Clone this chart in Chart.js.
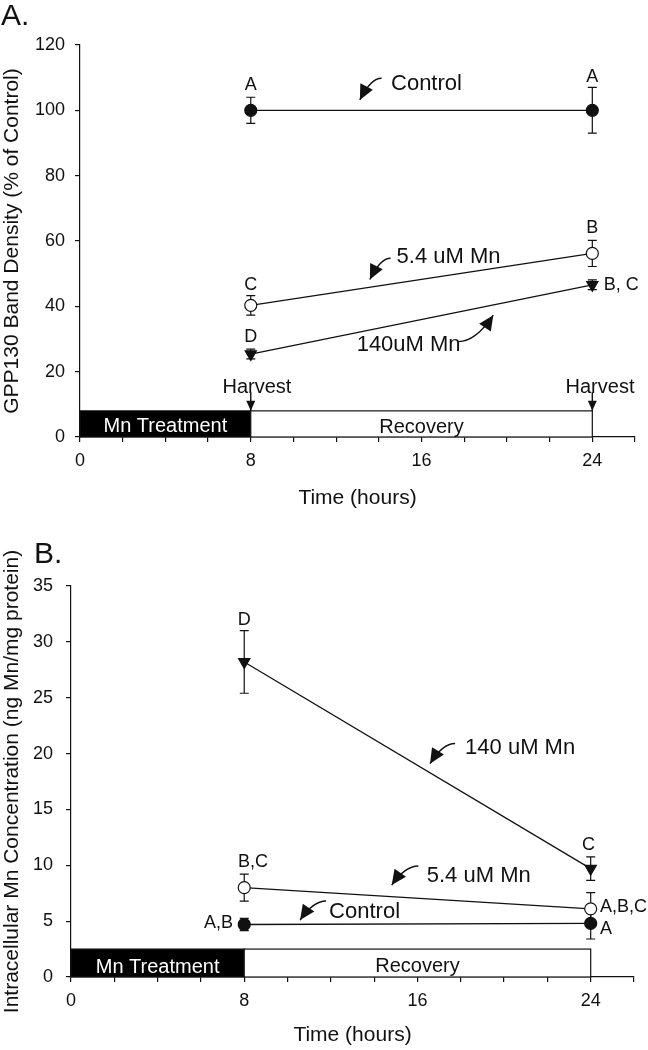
<!DOCTYPE html>
<html>
<head>
<meta charset="utf-8">
<script src="https://cdn.jsdelivr.net/npm/chart.js@4.4.0/dist/chart.umd.min.js"></script>
<style>
  html, body { margin: 0; padding: 0; background: #fff; }
  body { width: 648px; height: 1050px; position: relative; overflow: hidden; font-family: "Liberation Sans", Arial, sans-serif; }
  .panel { position: absolute; left: 0; width: 648px; }
  #wrapA { top: 0; height: 520px; }
  #wrapB { top: 520px; height: 530px; }
  .tag { position: absolute; font-size: 30px; line-height: 1; color: #111; }
</style>
</head>
<body>
<div class="panel" id="wrapA"><canvas id="chartA" width="648" height="520"></canvas></div>
<div class="panel" id="wrapB"><canvas id="chartB" width="648" height="530"></canvas></div>
<div class="tag" style="left:1px; top:0px;">A.</div>
<div class="tag" style="left:34px; top:538px;">B.</div>

<script>
// time points (hours) and axis ticks
const hours = [8, 24];
const xLabelTicks = [0, 8, 16, 24];

// A. GPP130 band density, % of control (mean and error)
const gppControl = [100, 100];
const gppControlErr = [4, 7];
const gppLow = [40.3, 56.2];
const gppLowErr = [3, 4];
const gppHigh = [25.4, 46.6];
const gppHighErr = [1.5, 1.5];
const gppTicks = [0, 20, 40, 60, 80, 100, 120];

// B. intracellular Mn, ng Mn / mg protein
const mnControl = [4.7, 4.8];
const mnControlErr = [0.55, 1.4];
const mnLow = [8.0, 6.1];
const mnLowErr = [1.2, 1.45];
const mnHigh = [28.2, 9.7];
const mnHighErr = [2.8, 1.05];
const mnTicks = [0, 5, 10, 15, 20, 25, 30, 35];

// treatment phases
const phaseNames = ['Mn Treatment', 'Recovery'];
const phaseStart = [0, 8];
const phaseEnd = [8, 24];
const harvestTimes = [8, 24];

const FONT = "'Liberation Sans', Arial, sans-serif";
const INK = '#111';

function pts(xs, ys) {
  return xs.map((x, i) => ({ x: x, y: ys[i] }));
}

function seriesSet(label, ys, errs, kind) {
  const ds = {
    label: label,
    data: pts(hours, ys),
    errors: errs,
    borderColor: INK,
    borderWidth: 1.3,
    pointRadius: 6,
    pointBorderColor: INK,
    pointBorderWidth: 1.2,
    pointBackgroundColor: INK,
    pointStyle: 'circle',
    tension: 0
  };
  if (kind === 'open') ds.pointBackgroundColor = '#fff';
  if (kind === 'tri') { ds.pointStyle = 'triangle'; ds.pointRotation = 180; ds.pointRadius = 6.5; }
  return ds;
}

// error bars under the points
const errorBars = {
  id: 'errorBars',
  beforeDatasetsDraw(chart) {
    const ctx = chart.ctx, y = chart.scales.y;
    ctx.save();
    ctx.strokeStyle = INK;
    ctx.lineWidth = 1.2;
    chart.data.datasets.forEach((ds, di) => {
      const meta = chart.getDatasetMeta(di);
      meta.data.forEach((p, i) => {
        const v = ds.data[i].y, e = ds.errors[i];
        const top = y.getPixelForValue(v + e), bot = y.getPixelForValue(v - e);
        ctx.beginPath();
        ctx.moveTo(p.x, top); ctx.lineTo(p.x, bot);
        ctx.moveTo(p.x - 4.5, top); ctx.lineTo(p.x + 4.5, top);
        ctx.moveTo(p.x - 4.5, bot); ctx.lineTo(p.x + 4.5, bot);
        ctx.stroke();
      });
    });
    ctx.restore();
  }
};

// treatment / recovery bar along the time axis
const phaseBar = {
  id: 'phaseBar',
  beforeDatasetsDraw(chart, args, opts) {
    const ctx = chart.ctx, x = chart.scales.x, y = chart.scales.y;
    const yTop = y.getPixelForValue(opts.height), yBot = y.getPixelForValue(0);
    ctx.save();
    ctx.lineWidth = 1.2;
    ctx.strokeStyle = INK;
    phaseNames.forEach((name, i) => {
      const x0 = x.getPixelForValue(phaseStart[i]), x1 = x.getPixelForValue(phaseEnd[i]);
      ctx.fillStyle = i === 0 ? '#000' : '#fff';
      ctx.fillRect(x0, yTop, x1 - x0, yBot - yTop);
      ctx.strokeRect(x0, yTop, x1 - x0, yBot - yTop);
    });
    ctx.restore();
  }
};

function arrowHead(ctx, tx, ty, dx, dy, len, wid) {
  const d = Math.hypot(dx, dy) || 1;
  const ux = dx / d, uy = dy / d;
  const bx = tx - ux * len, by = ty - uy * len;
  ctx.beginPath();
  ctx.moveTo(tx, ty);
  ctx.lineTo(bx - uy * wid / 2, by + ux * wid / 2);
  ctx.lineTo(bx + uy * wid / 2, by - ux * wid / 2);
  ctx.closePath();
  ctx.fill();
}

// text labels and arrows, placed in data units
const notes = {
  id: 'notes',
  afterDraw(chart, args, opts) {
    const ctx = chart.ctx, x = chart.scales.x, y = chart.scales.y;
    ctx.save();
    ctx.strokeStyle = INK;
    ctx.fillStyle = INK;
    ctx.lineWidth = 1.4;
    (opts.arrows || []).forEach(a => {
      const x0 = x.getPixelForValue(a.from[0]), y0 = y.getPixelForValue(a.from[1]);
      const x1 = x.getPixelForValue(a.to[0]), y1 = y.getPixelForValue(a.to[1]);
      if (a.straight) {
        ctx.beginPath(); ctx.moveTo(x0, y0); ctx.lineTo(x1, y1); ctx.stroke();
        arrowHead(ctx, x1, y1, x1 - x0, y1 - y0, 10, 9);
      } else {
        const cx = (x0 + x1) / 2, cy = y0;
        ctx.beginPath(); ctx.moveTo(x0, y0); ctx.quadraticCurveTo(cx, cy, x1, y1); ctx.stroke();
        arrowHead(ctx, x1, y1, x1 - cx, y1 - cy, 15, 14);
      }
    });
    (opts.labels || []).forEach(t => {
      ctx.font = (t.size || 18) + 'px ' + FONT;
      ctx.fillStyle = t.color || INK;
      ctx.textAlign = t.align || 'center';
      ctx.textBaseline = 'middle';
      ctx.fillText(t.text, x.getPixelForValue(t.x), y.getPixelForValue(t.y));
    });
    ctx.restore();
  }
};

function makePanel(id, datasets, yTitle, yTicks, yMax, dims, extras) {
  return new Chart(document.getElementById(id), {
    type: 'line',
    data: { datasets: datasets },
    plugins: [phaseBar, errorBars, notes],
    options: {
      responsive: false,
      animation: false,
      devicePixelRatio: 1,
      layout: { padding: dims.padding },
      scales: {
        x: {
          type: 'linear',
          min: 0, max: 26,
          afterFit: s => { s.height = dims.xHeight; },
          border: { display: true, color: INK, width: 1.2 },
          grid: { drawOnChartArea: false, drawTicks: true, tickLength: 5, color: INK, lineWidth: 1.2 },
          ticks: {
            stepSize: 2, autoSkip: false, maxRotation: 0, padding: 8,
            color: INK, font: { size: 18, family: FONT },
            callback: v => xLabelTicks.includes(v) ? String(v) : ''
          },
          title: { display: true, text: 'Time (hours)', color: INK, font: { size: 21, family: FONT }, padding: { top: 0, bottom: 0 } }
        },
        y: {
          min: 0, max: yMax,
          afterFit: s => { s.width = dims.yWidth; },
          afterBuildTicks: s => { s.ticks = yTicks.map(v => ({ value: v })); },
          border: { display: true, color: INK, width: 1.2 },
          grid: { drawOnChartArea: false, drawTicks: true, tickLength: 5, color: INK, lineWidth: 1.2 },
          ticks: { padding: dims.yPad, color: INK, font: { size: 18, family: FONT } },
          title: { display: true, text: yTitle, color: INK, font: { size: 21, family: FONT }, padding: { top: 0, bottom: 0 } }
        }
      },
      plugins: {
        legend: { display: false },
        tooltip: { enabled: false },
        phaseBar: { height: extras.barHeight },
        notes: { labels: extras.labels, arrows: extras.arrows }
      }
    }
  });
}

makePanel('chartA', [
  seriesSet('Control', gppControl, gppControlErr, 'filled'),
  seriesSet('5.4 uM Mn', gppLow, gppLowErr, 'open'),
  seriesSet('140uM Mn', gppHigh, gppHighErr, 'tri')
], 'GPP130 Band Density (% of Control)', gppTicks, 120,
{ padding: { left: 0, top: 45, right: 13, bottom: 9 }, xHeight: 74, yWidth: 80, yPad: 10 },
{
  barHeight: 8,
  labels: [
    { text: 'A', x: 8, y: 107.7 },
    { text: 'A', x: 24, y: 110.1 },
    { text: 'Control', x: 14.57, y: 108, align: 'left', size: 22 },
    { text: 'B', x: 24, y: 64 },
    { text: '5.4 uM Mn', x: 14.83, y: 55.2, align: 'left', size: 22 },
    { text: 'C', x: 8, y: 46.5 },
    { text: 'D', x: 8, y: 30.7 },
    { text: 'B, C', x: 24.54, y: 46.5, align: 'left' },
    { text: '140uM Mn', x: 12.96, y: 28.2, align: 'left', size: 22 },
    { text: 'Harvest', x: harvestTimes[0] + 0.29, y: 15.2, size: 20 },
    { text: 'Harvest', x: harvestTimes[1] + 0.36, y: 15.2, size: 20 },
    { text: phaseNames[0], x: 4, y: 3.2, size: 20, color: '#fff' },
    { text: phaseNames[1], x: 16, y: 2.9, size: 20 }
  ],
  arrows: [
    { from: [14.13, 109.8], to: [13.11, 103.2] },
    { from: [14.55, 54.7], to: [13.58, 48.2] },
    { from: [17.72, 29.2], to: [19.36, 37.3] },
    { from: [harvestTimes[0], 13.7], to: [harvestTimes[0], 8], straight: true },
    { from: [harvestTimes[1], 13.7], to: [harvestTimes[1], 8], straight: true }
  ]
});

makePanel('chartB', [
  seriesSet('Control', mnControl, mnControlErr, 'filled'),
  seriesSet('5.4 uM Mn', mnLow, mnLowErr, 'open'),
  seriesSet('140 uM Mn', mnHigh, mnHighErr, 'tri')
], 'Intracellular Mn Concentration (ng Mn/mg protein)', mnTicks, 35,
{ padding: { left: 0, top: 66, right: 14, bottom: 2 }, xHeight: 71, yWidth: 71, yPad: 13 },
{
  barHeight: 2.5,
  labels: [
    { text: 'D', x: 8, y: 31.96 },
    { text: 'C', x: 23.9, y: 11.8 },
    { text: 'B,C', x: 8.4, y: 10.3 },
    { text: 'A,B,C', x: 24.43, y: 6.24, align: 'left' },
    { text: 'A', x: 24.43, y: 4.27, align: 'left' },
    { text: 'A,B', x: 7.48, y: 4.8, align: 'right' },
    { text: '140 uM Mn', x: 18.2, y: 20.47, align: 'left', size: 22 },
    { text: '5.4 uM Mn', x: 16.43, y: 9.04, align: 'left', size: 22 },
    { text: 'Control', x: 11.92, y: 5.85, align: 'left', size: 22 },
    { text: phaseNames[0], x: 4, y: 0.85, size: 20, color: '#fff' },
    { text: phaseNames[1], x: 16, y: 0.92, size: 20 }
  ],
  arrows: [
    { from: [17.74, 20.9], to: [16.58, 19.1] },
    { from: [16.04, 9.94], to: [14.81, 8.23] },
    { from: [11.78, 6.8], to: [10.58, 5.1] }
  ]
});
</script>
</body>
</html>
